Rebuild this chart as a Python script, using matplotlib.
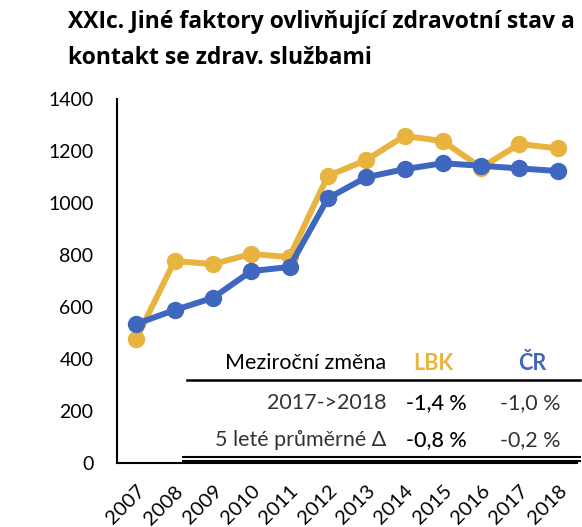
import matplotlib as mpl

mpl.use("agg")

import matplotlib.pyplot as plt
from matplotlib.lines import Line2D

# data
years = ["2007", "2008", "2009", "2010", "2011", "2012",
         "2013", "2014", "2015", "2016", "2017", "2018"]
lbk = [477, 777, 765, 804, 792, 1104, 1165, 1258, 1238, 1136, 1227, 1210]
cr = [535, 588, 635, 738, 754, 1018, 1099, 1130, 1153, 1143, 1133, 1123]

table_header = ["Meziroční změna", "LBK", "ČR"]
table_rows = [
    ["2017->2018", "-1,4 %", "-1,0 %"],
    ["5 leté průměrné Δ", "-0,8 %", "-0,2 %"],
]

YELLOW = "#E8B33F"
BLUE = "#3F67C0"
W, H = 582, 527

plt.rcParams["font.family"] = ["Lato", "DejaVu Sans"]

fig = plt.figure(figsize=(W / 100, H / 100), dpi=100)
ax = fig.add_axes([117 / W, 1 - 463 / H, (577 - 117) / W, (463 - 99) / H])

x = range(len(years))
ax.plot(x, lbk, color=YELLOW, lw=4.3, marker="o", ms=11.5, zorder=3)
ax.plot(x, cr, color=BLUE, lw=4.3, marker="o", ms=11.5, zorder=4)

ax.set_xlim(-0.5, len(years) - 0.5)
ax.set_ylim(0, 1400)
ax.set_yticks(range(0, 1401, 200))
ax.set_xticks(list(x))
ax.set_xticklabels(years, rotation=45, ha="right", va="top",
                   rotation_mode="anchor", fontsize=14.5)
ax.tick_params(axis="y", labelsize=14, length=0, pad=17)
ax.tick_params(axis="x", length=0, pad=14)
for s in ["top", "right"]:
    ax.spines[s].set_visible(False)
ax.spines["left"].set_linewidth(1.5)
ax.spines["bottom"].set_linewidth(1.5)

# title
fig.text(68 / W, 1 - 22 / H, "XXIc. Jiné faktory ovlivňující zdravotní stav a",
         fontsize=16.5, fontweight="bold", family="Open Sans", va="center")
fig.text(68 / W, 1 - 58 / H, "kontakt se zdrav. službami",
         fontsize=16.5, fontweight="bold", family="Open Sans", va="center")


# summary table
def fx(px):
    return px / W


def fy(py):
    return 1 - py / H


TS = 15.5
fig.text(fx(386), fy(363), table_header[0], fontsize=TS, ha="right", va="center")
fig.text(fx(433), fy(363), table_header[1], fontsize=TS, ha="center", va="center",
         color=YELLOW, fontweight="bold")
fig.text(fx(532), fy(363), table_header[2], fontsize=TS, ha="center", va="center",
         color=BLUE, fontweight="bold")
for i, row in enumerate(table_rows):
    yy = fy(403 + i * 37)
    fig.text(fx(386), yy, row[0], fontsize=TS, ha="right", va="center", color="#333333")
    fig.text(fx(467), yy, row[1], fontsize=TS, ha="right", va="center",
             color="#000000", fontweight="medium")
    fig.text(fx(560), yy, row[2], fontsize=TS, ha="right", va="center", color="#333333")

fig.add_artist(Line2D([fx(187), fx(580)], [fy(380), fy(380)], color="black", lw=1.8))
fig.add_artist(Line2D([fx(183), fx(580)], [fy(457), fy(457)], color="black", lw=1.5))
fig.add_artist(Line2D([fx(183), fx(580)], [fy(460.5), fy(460.5)], color="black", lw=1.5))

fig.savefig("out.png", dpi=100)
